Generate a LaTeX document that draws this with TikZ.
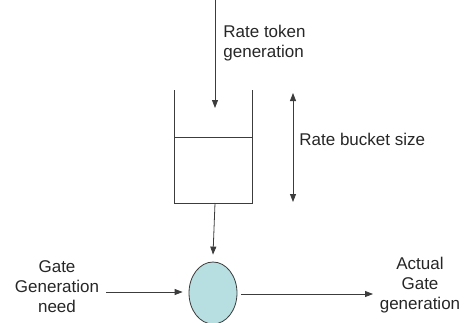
\documentclass[tikz,border=0pt]{standalone}
\usepackage{fontspec}
\setmainfont{Liberation Sans}
\usetikzlibrary{shapes.geometric, arrows.meta}
\definecolor{gatefill}{RGB}{183,222,224}
\definecolor{wire}{RGB}{60,60,60}
\begin{document}
\begin{tikzpicture}[x=1pt, y=-1pt, >={Triangle[length=8pt, width=6pt]}, line width=0.8pt, draw=wire,
    font=\fontsize{17}{20}\selectfont,
    label/.style={inner sep=0pt, text=black!85}]
\clip (0,0) rectangle (470,322);
% bucket walls and level
\draw (174,90) -- (174,203) -- (252,203) -- (252,90);
\draw (174,137) -- (252,137);
\coordinate (in) at (215,0);
\coordinate (top) at (215,108);
\coordinate (bottom) at (215,203);
\coordinate (sizetop) at (293,93);
\coordinate (sizebot) at (293,202);
\coordinate (needend) at (106,292);
\coordinate (actualend) at (373,294);
% gate and labels
\node[ellipse, draw, fill=gatefill, minimum width=48, minimum height=62, inner sep=0pt] (gate) at (213,293) {};
\node[label, anchor=west, align=left] (token) at (223,43) {Rate token\\generation};
\node[label, anchor=west] (size) at (299,139) {Rate bucket size};
\node[label, align=center] (need) at (57,287) {Gate\\Generation\\need};
\node[label, align=center] (actual) at (420,285) {Actual\\Gate\\generation};
% flows
\draw[->] (in) -- (top);
\draw[<->] (sizetop) -- (sizebot);
\draw[->] (bottom) -- ([yshift=7pt]gate.north);
\draw[->] (needend) -- ([xshift=-6pt]needend -| gate.west);
\draw[->] ([xshift=4pt]actualend -| gate.east) -- (actualend);
\end{tikzpicture}
\end{document}
